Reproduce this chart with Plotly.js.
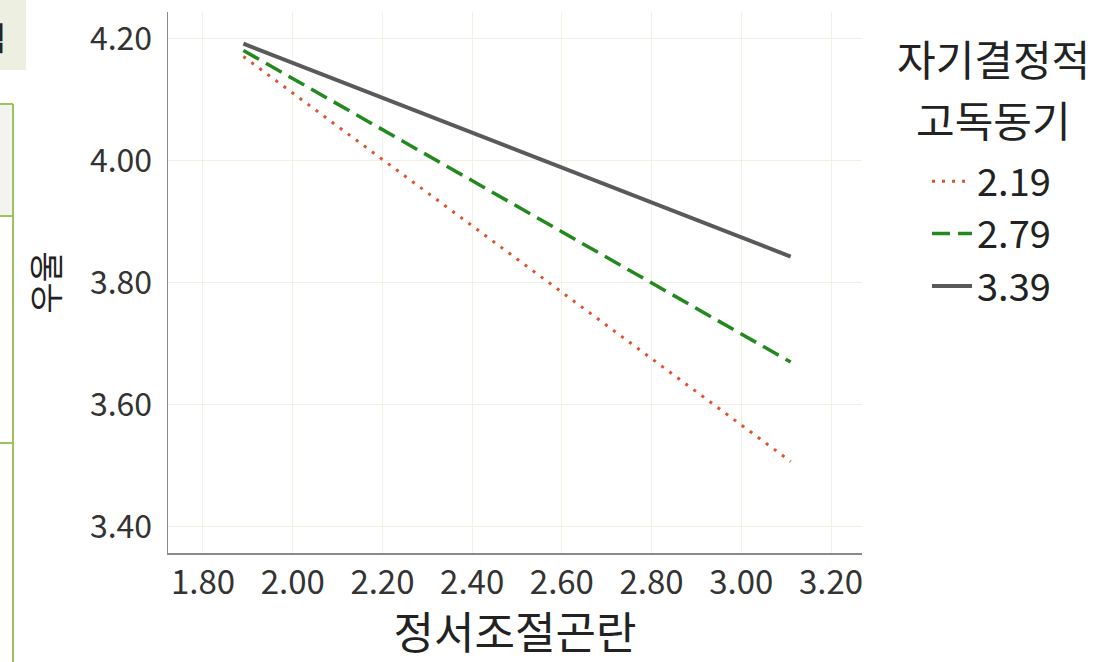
<!DOCTYPE html>
<html>
<head>
<meta charset="utf-8">
<script src="https://cdn.plot.ly/plotly-3.0.1.min.js"></script>
<style>html,body{margin:0;padding:0;background:#fff;}#chart{width:1108px;height:662px;}</style>
</head>
<body>
<div id="chart"></div>
<script>
// Data
const xValues = [1.89, 3.11];                 // 정서조절곤란 (low, high)
const seriesNames = ["2.19", "2.79", "3.39"];   // 자기결정적 고독동기 levels
const yLow  = [4.171, 3.507];                  // 2.19
const yMid  = [4.181, 3.670];                  // 2.79
const yHigh = [4.192, 3.843];                  // 3.39
const xTicks = [1.8, 2.0, 2.2, 2.4, 2.6, 2.8, 3.0, 3.2];
const yTicks = [3.4, 3.6, 3.8, 4.0, 4.2];
const legendTitleLines = ['자기결정적', '고독동기'];

const W = 1108, H = 662, L = 168, R = 862, T = 12, B = 553;
const px = v => (v - L) / (R - L);
const py = v => (B - v) / (B - T);
const FONT = '"Noto Sans CJK KR", "Noto Sans", sans-serif';

const traces = [
  {x: xValues, y: yLow, name: seriesNames[0], mode: 'lines',
   line: {color: '#e0532f', width: 3, dash: '3px,7px'}},
  {x: xValues, y: yMid, name: seriesNames[1], mode: 'lines',
   line: {color: '#23891f', width: 3.5, dash: '18px,8px'}},
  {x: xValues, y: yHigh, name: seriesNames[2], mode: 'lines',
   line: {color: '#5a5a5a', width: 4}}
];

const green = '#9cc35e';
const shapes = [
  {type: 'rect', xref: 'paper', yref: 'paper', x0: px(0), x1: px(26), y0: py(70), y1: py(0),
   fillcolor: '#edf0e1', line: {width: 0}, layer: 'below'},
  {type: 'rect', xref: 'paper', yref: 'paper', x0: px(0), x1: px(13), y0: py(216), y1: py(104),
   fillcolor: '#f3f3ef', line: {width: 0}, layer: 'below'},
  {type: 'line', xref: 'paper', yref: 'paper', x0: px(13), x1: px(13), y0: py(662), y1: py(104),
   line: {color: green, width: 2}},
  {type: 'line', xref: 'paper', yref: 'paper', x0: px(0), x1: px(13), y0: py(104), y1: py(104),
   line: {color: green, width: 2}},
  {type: 'line', xref: 'paper', yref: 'paper', x0: px(0), x1: px(13), y0: py(216), y1: py(216),
   line: {color: green, width: 2}},
  {type: 'line', xref: 'paper', yref: 'paper', x0: px(0), x1: px(13), y0: py(443), y1: py(443),
   line: {color: green, width: 2}}
];

const annotations = [
  {text: '적', xref: 'paper', yref: 'paper', x: px(-9), y: py(36), xanchor: 'center', yanchor: 'middle',
   showarrow: false, font: {family: FONT, size: 32, color: '#222'}},
  {text: legendTitleLines[0], xref: 'paper', yref: 'paper', x: px(993), y: py(57), xanchor: 'center', yanchor: 'middle',
   showarrow: false, font: {family: FONT, size: 42, color: '#222'}},
  {text: legendTitleLines[1], xref: 'paper', yref: 'paper', x: px(993), y: py(119), xanchor: 'center', yanchor: 'middle',
   showarrow: false, font: {family: FONT, size: 42, color: '#222'}}
];

const layout = {
  width: W, height: H,
  margin: {l: L, r: W - R, t: T, b: H - B, pad: 0},
  paper_bgcolor: '#ffffff', plot_bgcolor: '#ffffff',
  font: {family: FONT, color: '#333'},
  xaxis: {
    range: [1.722, 3.269], tickvals: xTicks, ticktext: xTicks.map(v => v.toFixed(2)),
    showgrid: true, gridcolor: '#f2f0e3', gridwidth: 1,
    showline: true, linecolor: '#8a8a8a', linewidth: 1.5, zeroline: false,
    ticks: '', tickfont: {family: FONT, size: 33, color: '#333'},
    title: {text: '정서조절곤란', font: {family: FONT, size: 44, color: '#222'}, standoff: 28}
  },
  yaxis: {
    range: [3.357, 4.244], tickvals: yTicks, ticktext: yTicks.map(v => v.toFixed(2)),
    showgrid: true, gridcolor: '#f2f0e3', gridwidth: 1,
    showline: true, linecolor: '#8a8a8a', linewidth: 1.5, zeroline: false,
    ticks: '', tickfont: {family: FONT, size: 32, color: '#333'}, ticklabelstandoff: 8,
    title: {text: '우울', font: {family: FONT, size: 34, color: '#222'}, standoff: 20}
  },
  legend: {
    x: px(927), xanchor: 'left', y: py(150), yanchor: 'top',
    bgcolor: 'rgba(0,0,0,0)', borderwidth: 0,
    font: {family: FONT, size: 38, color: '#222'},
    itemwidth: 40, tracegroupgap: 0
  },
  shapes: shapes,
  annotations: annotations,
  showlegend: true
};

Plotly.newPlot('chart', traces, layout, {displayModeBar: false, staticPlot: true});
</script>
</body>
</html>
